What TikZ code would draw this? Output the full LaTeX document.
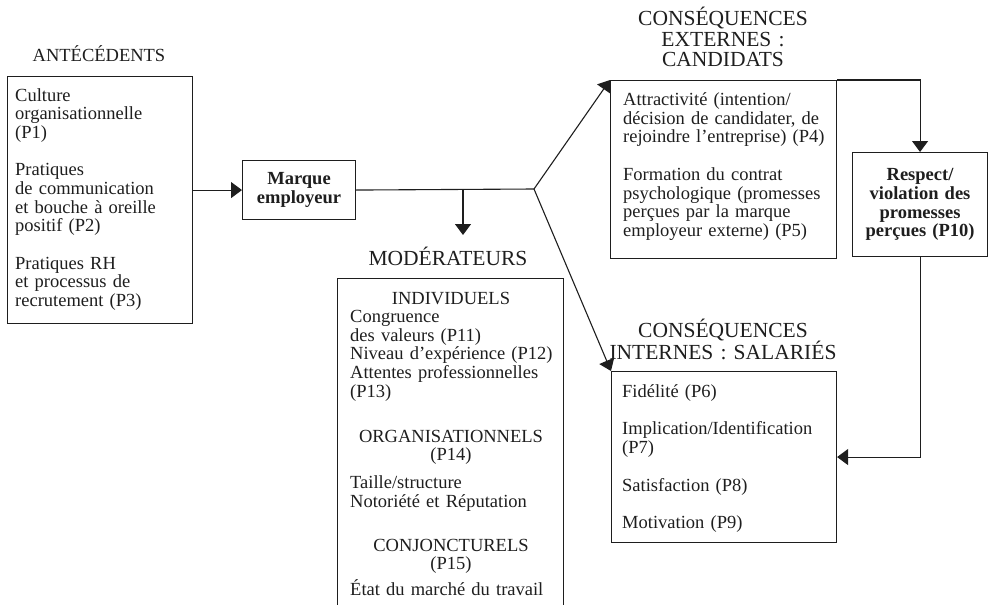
\documentclass[tikz,border=0pt]{standalone}
\usepackage{fontspec}
\setmainfont{Liberation Serif}
\usetikzlibrary{arrows.meta,calc}
\definecolor{ink}{RGB}{30,30,30}
\begin{document}
\begin{tikzpicture}[x=1pt,y=-1pt,
  box/.style={draw=ink, line width=1.1pt, inner sep=0pt, anchor=north west},
  body/.style={font=\fontsize{18.5}{18.7}\selectfont, text=ink, inner sep=0pt, align=left},
  bodyc/.style={font=\fontsize{18.5}{18.7}\selectfont, text=ink, inner sep=0pt, align=center},
  bold/.style={font=\fontsize{18.5}{18.7}\selectfont\bfseries, text=ink, align=center},
  ttl/.style={font=\fontsize{21.5}{21}\selectfont, text=ink, inner sep=0pt, align=center},
  arr/.style={draw=ink, line width=1.1pt, -{Triangle[length=11pt,width=16pt]}},
  ln/.style={draw=ink, line width=1.1pt}]
\useasboundingbox (0,0) rectangle (989,605);

% ---------- Antecedents ----------
\node[bodyc, anchor=base] (antet) at (99,61) {ANTÉCÉDENTS};
\node[box, minimum width=185pt, minimum height=247pt] (ante) at (7,76) {};
\node[body, text width=175pt, anchor=base west] (antetxt) at (15,101)
  {Culture\\organisationnelle\\(P1)\\[18.7pt]Pratiques\\de communication\\et bouche à oreille\\positif (P2)\\[18.7pt]Pratiques RH\\et processus de\\recrutement (P3)};

% ---------- Marque employeur ----------
\node[box, bold, minimum width=113pt, minimum height=59pt, text width=110pt] (marque) at (242,160) {Marque\\employeur};

% ---------- Moderateurs ----------
\node[ttl, anchor=base] (modt) at (448,265) {MODÉRATEURS};
\node[box, minimum width=226pt, minimum height=345pt] (mod) at (337,278) {};
\node[bodyc, text width=210pt, anchor=base] (ind) at (451,304) {INDIVIDUELS};
\node[body, text width=210pt, anchor=base west] (indtxt) at (350,322.5)
  {Congruence\\des valeurs (P11)\\Niveau d’expérience (P12)\\Attentes professionnelles\\(P13)};
\node[bodyc, text width=210pt, anchor=base] (org) at (451,442) {ORGANISATIONNELS\\(P14)};
\node[body, text width=210pt, anchor=base west] (orgtxt) at (350,488.5)
  {Taille/structure\\Notoriété et Réputation};
\node[bodyc, text width=210pt, anchor=base] (conj) at (451,551) {CONJONCTURELS\\(P15)};
\node[body, text width=210pt, anchor=base west] (conjtxt) at (350,595.5)
  {État du marché du travail};

% ---------- Consequences externes ----------
\node[ttl, text width=220pt, anchor=base] (extt) at (723,25) {CONSÉQUENCES\\EXTERNES :\\CANDIDATS};
\node[box, minimum width=226pt, minimum height=178pt] (ext) at (610,80) {};
\node[body, text width=210pt, anchor=base west] (exttxt) at (623,105.5)
  {Attractivité (intention/\\décision de candidater, de\\rejoindre l’entreprise) (P4)\\[18.7pt]Formation du contrat\\psychologique (promesses\\perçues par la marque\\employeur externe) (P5)};

% ---------- Respect ----------
\node[box, bold, minimum width=135pt, minimum height=104pt, text width=132pt] (resp) at (852,152)
  {Respect/\\violation des\\promesses\\perçues (P10)};

% ---------- Consequences internes ----------
\node[ttl, text width=240pt, anchor=base] (intt) at (723,337) {CONSÉQUENCES\\INTERNES : SALARIÉS};
\node[box, minimum width=225pt, minimum height=171pt] (int) at (611,371) {};
\node[body, text width=210pt, anchor=base west] (inttxt) at (622,397.5)
  {Fidélité (P6)\\[18.7pt]Implication/Identification\\(P7)\\[18.7pt]Satisfaction (P8)\\[18.7pt]Motivation (P9)};

% ---------- Connectors ----------
\coordinate (j) at (534,189);
\coordinate (m0) at (463,189);
\coordinate (mtip) at (463,235);
\draw[arr] (ante.east |- marque.west) -- (marque.west);
\draw[ln] (marque.east) -- (j);
\draw[arr] (m0) -- (mtip);
\draw[arr] (j) -- (ext.north west);
\draw[arr] (j) -- (int.north west);
\draw[arr] (ext.north east) -| (resp.north);
\draw[arr] (resp.south) |- (int.east);
\end{tikzpicture}
\end{document}
